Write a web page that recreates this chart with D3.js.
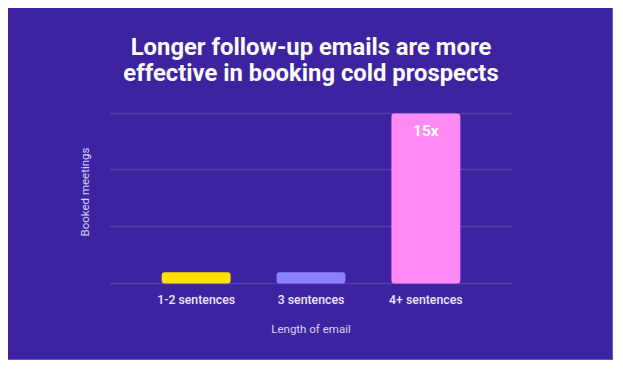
<!DOCTYPE html>
<html>
<head>
<meta charset="utf-8">
<script src="https://cdn.jsdelivr.net/npm/d3@7"></script>
<style>
  body { margin: 0; background: #fff; }
  text { font-family: Roboto, "Open Sans", sans-serif; }
</style>
</head>
<body>
<svg id="chart"></svg>
<script>
const categories = ['1-2 sentences', '3 sentences', '4+ sentences'];
const meetings = [1, 1, 15];
const barLabels = ['', '', '15x'];
const gridTicks = [0, 5, 10, 15];
const titleLines = ['Longer follow-up emails are more', 'effective in booking cold prospects'];
const colors = ['#ffe100', '#8c80ff', '#ff8af6'];

const dims = { width: 623, height: 370 };
const plot = { left: 110, right: 512, top: 113.5, bottom: 283.5 };

const svg = d3.select('#chart')
  .attr('width', dims.width)
  .attr('height', dims.height);

// panel
svg.append('rect')
  .attr('x', 8).attr('y', 8)
  .attr('width', 605).attr('height', 352)
  .attr('fill', '#3e23a0');
svg.append('path')
  .attr('d', 'M612.5,8V359.5H8')
  .attr('fill', 'none')
  .attr('stroke', '#6a56c8')
  .attr('stroke-width', 1);

const x = d3.scaleBand()
  .domain(categories)
  .range([plot.left, plot.right])
  .paddingInner(0.4)
  .paddingOuter(0.45);

const y = d3.scaleLinear()
  .domain([0, 15])
  .range([plot.bottom, plot.top]);

// gridlines
svg.append('g')
  .selectAll('line')
  .data(gridTicks)
  .enter()
  .append('line')
  .attr('x1', plot.left)
  .attr('x2', plot.right)
  .attr('y1', d => Math.round(y(d)) - 0.5)
  .attr('y2', d => Math.round(y(d)) - 0.5)
  .attr('stroke', '#5640b0')
  .attr('stroke-width', 1.5);

// bars
svg.append('g')
  .selectAll('rect')
  .data(meetings)
  .enter()
  .append('rect')
  .attr('x', (d, i) => x(categories[i]))
  .attr('y', d => y(d))
  .attr('width', x.bandwidth())
  .attr('height', d => y(0) - y(d))
  .attr('rx', 3)
  .attr('fill', (d, i) => colors[i]);

// value label
svg.append('g')
  .selectAll('text')
  .data(meetings)
  .enter()
  .append('text')
  .attr('x', (d, i) => x(categories[i]) + x.bandwidth() / 2)
  .attr('y', d => y(d) + 22.5)
  .attr('text-anchor', 'middle')
  .attr('fill', '#ffffff')
  .style('font-size', '15.5px')
  .style('font-weight', 700)
  .text((d, i) => barLabels[i]);

// category axis
const xAxis = svg.append('g')
  .attr('transform', `translate(0, ${plot.bottom})`)
  .call(d3.axisBottom(x).tickSize(0).tickPadding(12));
xAxis.select('.domain').remove();
xAxis.selectAll('text')
  .attr('fill', '#ece8fb')
  .style('font-size', '12.3px')
  .style('font-weight', 500);

// axis titles
svg.append('text')
  .attr('x', (plot.left + plot.right) / 2)
  .attr('y', 333)
  .attr('text-anchor', 'middle')
  .attr('fill', '#d9d2f3')
  .style('font-size', '11.5px')
  .text('Length of email');

svg.append('text')
  .attr('transform', `translate(89, 192) rotate(-90)`)
  .attr('text-anchor', 'middle')
  .attr('fill', '#d9d2f3')
  .style('font-size', '11.5px')
  .text('Booked meetings');

// title
svg.append('g')
  .selectAll('text')
  .data(titleLines)
  .enter()
  .append('text')
  .attr('x', 311)
  .attr('y', (d, i) => 54.5 + i * 26)
  .attr('text-anchor', 'middle')
  .attr('fill', '#ffffff')
  .style('font-size', '23.8px')
  .style('font-weight', 700)
  .text(d => d);
</script>
</body>
</html>
